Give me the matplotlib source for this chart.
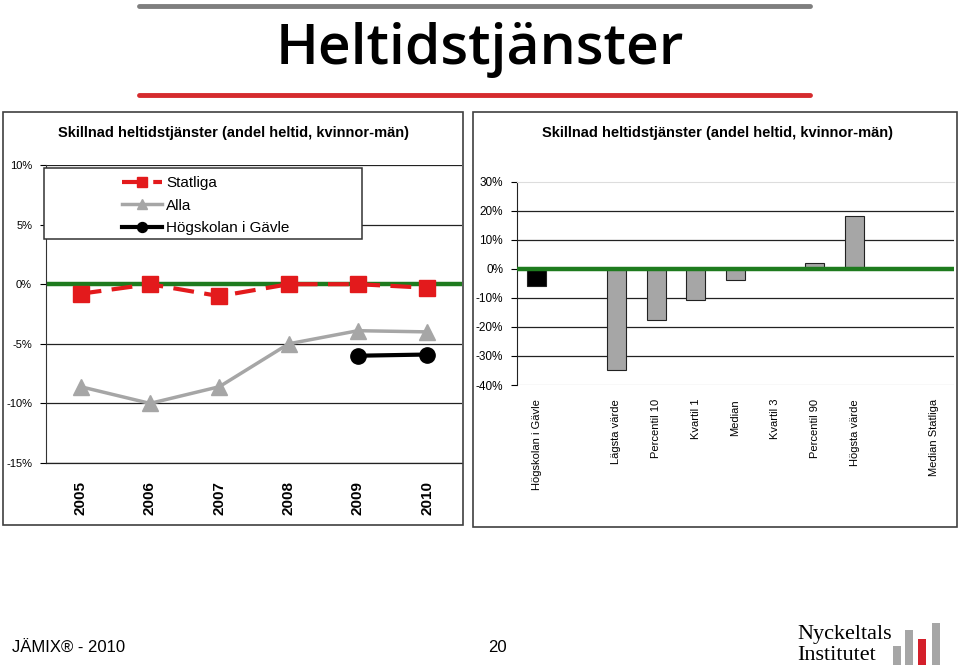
import matplotlib
matplotlib.use('Agg')
import matplotlib.pyplot as plt
from matplotlib.patches import Rectangle
from matplotlib.lines import Line2D
import numpy as np

plt.rcParams['font.family'] = ['Liberation Sans', 'DejaVu Sans']

W, H = 960, 668

# left chart: difference over years
years = ['2005', '2006', '2007', '2008', '2009', '2010']
statliga = [-0.8, 0.0, -1.0, 0.0, 0.0, -0.3]
alla = [-8.6, -10.0, -8.6, -5.0, -3.9, -4.0]
hig_years = ['2009', '2010']
hig = [-6.0, -5.9]
nollinje = 0.0

# right chart: distribution 2010
categories = ['Högskolan i Gävle', '', 'Lägsta värde', 'Percentil 10', 'Kvartil 1',
              'Median', 'Kvartil 3', 'Percentil 90', 'Högsta värde', '', 'Median Statliga']
values = [-6.0, np.nan, -35.0, -17.7, -10.8, -3.9, 0.0, 1.9, 18.2, np.nan, 0.0]
median_statliga = 0.0

panel_title = 'Skillnad heltidstjänster (andel heltid, kvinnor-män)'


def px(x0, y0, x1, y1):
    return [x0 / W, 1 - y1 / H, (x1 - x0) / W, (y1 - y0) / H]


def fx(x):
    return x / W


def fy(y):
    return 1 - y / H


fig = plt.figure(figsize=(9.6, 6.68), dpi=100)
fig.patch.set_facecolor('white')

# title bars and title
fig.add_artist(Line2D([fx(139), fx(810)], [fy(5.5), fy(5.5)], color='#7f7f7f', lw=3.5,
                      solid_capstyle='round'))
fig.add_artist(Line2D([fx(139), fx(810)], [fy(94.5), fy(94.5)], color='#d52b2e', lw=3.5,
                      solid_capstyle='round'))
fig.text(0.5, fy(50), 'Heltidstjänster', ha='center', va='center', fontsize=41,
         family='Open Sans', fontweight='semibold')

# panel frames
fig.add_artist(Rectangle((fx(3), fy(525)), (463 - 3) / W, (525 - 112) / H, fill=False,
                         ec='#404040', lw=1.2, transform=fig.transFigure))
fig.add_artist(Rectangle((fx(473), fy(527)), (957 - 473) / W, (527 - 112) / H, fill=False,
                         ec='#404040', lw=1.2, transform=fig.transFigure))

fig.text(fx(233), fy(133), panel_title, ha='center', va='center', fontsize=10.5,
         fontweight='bold')
fig.text(fx(717), fy(133), panel_title, ha='center', va='center', fontsize=10.5,
         fontweight='bold')

# ---- left chart
ax1 = fig.add_axes(px(46, 165, 462, 463))
x = np.arange(len(years))
ax1.set_xlim(-0.5, len(years) - 0.5)
ax1.set_ylim(-15, 10)
ax1.set_yticks(np.arange(-15, 11, 5))
ax1.set_yticklabels([f'{v}%' for v in range(-15, 11, 5)], fontsize=8)
ax1.set_xticks(x)
ax1.set_xticklabels(years, rotation=90, fontsize=11, fontweight='bold', va='top')
ax1.tick_params(axis='x', length=0, pad=13)
ax1.tick_params(axis='y', length=4, pad=6)
ax1.grid(axis='y', color='#222222', lw=0.9)
ax1.set_axisbelow(True)
for s in ['top', 'right']:
    ax1.spines[s].set_visible(False)
ax1.spines['left'].set_color('#333333')
ax1.spines['bottom'].set_color('#222222')
ax1.spines['bottom'].set_linewidth(0.9)

ax1.axhline(nollinje, color='#1e7b1e', lw=3.2, zorder=2)
ax1.plot(x, statliga, color='#e31a1c', lw=3, ls=(0, (5, 2.5)), marker='s', ms=11,
         zorder=4, label='Statliga')
ax1.plot(x, alla, color='#a6a6a6', lw=2.5, marker='^', ms=12, zorder=3, label='Alla')
hx = [years.index(y) for y in hig_years]
ax1.plot(hx, hig, color='black', lw=3, marker='o', ms=11, zorder=5,
         label='Högskolan i Gävle')

ax1.add_patch(Rectangle((-0.53, 3.83), 4.59, 5.92, fill=True, fc='white', ec='#333333',
                        lw=1.1, zorder=6, clip_on=False))
leg = ax1.legend(loc='upper left', bbox_to_anchor=(0.15, 1.008), frameon=False,
                 fontsize=11, handlelength=2.6, labelspacing=0.55, handletextpad=0.3,
                 markerscale=0.65)
leg.set_zorder(7)

# ---- right chart
ax2 = fig.add_axes(px(517, 181.7, 954, 385))
xc = np.arange(len(categories))
ax2.set_xlim(-0.5, len(categories) - 0.5)
ax2.set_ylim(-40, 30)
ax2.set_yticks(np.arange(-40, 31, 10))
ax2.set_yticklabels([f'{v}%' for v in range(-40, 31, 10)], fontsize=8.5)
ax2.set_xticks(xc)
ax2.set_xticklabels(categories, rotation=90, fontsize=8, va='top')
ax2.tick_params(axis='x', length=0, pad=10)
ax2.tick_params(axis='y', length=4, pad=6)
for yv in range(-30, 21, 10):
    ax2.axhline(yv, color='#222222', lw=0.9, zorder=0)
for s in ['right', 'bottom']:
    ax2.spines[s].set_visible(False)
ax2.spines['top'].set_color('#dddddd')
ax2.axhline(-40, color='#dddddd', lw=1, zorder=0)
ax2.spines['left'].set_color('#222222')

colors = ['black'] + ['#a6a6a6'] * (len(categories) - 1)
ax2.bar(xc, values, width=0.48, color=colors, edgecolor='#222222', lw=0.8, zorder=2)
ax2.axhline(median_statliga, color='#1e7b1e', lw=3.2, zorder=3)

# ---- footer
fig.text(fx(12), fy(648), 'JÄMIX® - 2010', ha='left', va='center', fontsize=12)
fig.text(fx(497), fy(648), '20', ha='center', va='center', fontsize=12)
fig.text(fx(797), fy(634), 'Nyckeltals', ha='left', va='center', fontsize=16,
         family='Liberation Serif')
fig.text(fx(797), fy(655), 'Institutet', ha='left', va='center', fontsize=16,
         family='Liberation Serif')
for x0, y0, c in [(893, 646, '#a6a6a6'), (905, 630, '#a6a6a6'), (918, 639, '#d41f2a'),
                  (932, 623, '#a6a6a6')]:
    fig.add_artist(Rectangle((fx(x0), fy(665)), 8 / W, (665 - y0) / H, fc=c, ec='none',
                             transform=fig.transFigure))

fig.savefig('out.png', dpi=100)
